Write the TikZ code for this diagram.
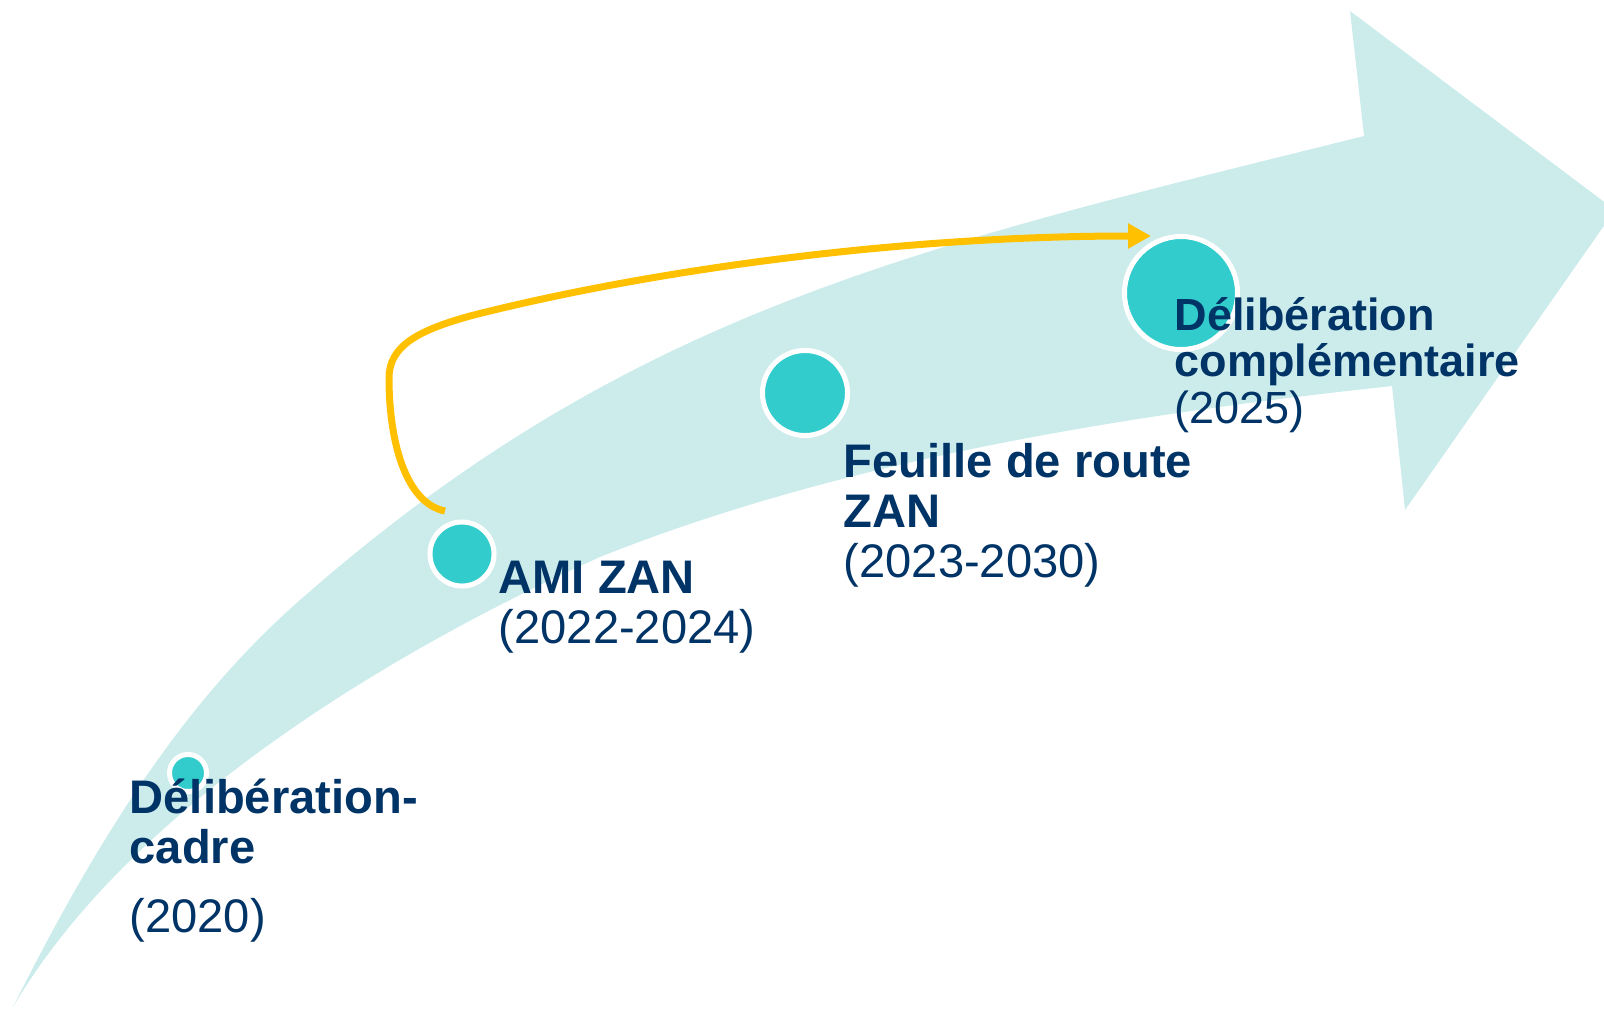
\documentclass[tikz,border=0pt]{standalone}
\usepackage{fontspec}
\setmainfont{Liberation Sans}
\usetikzlibrary{arrows.meta}
\definecolor{bandteal}{HTML}{CCECEC}
\definecolor{dotteal}{HTML}{33CCCC}
\definecolor{navy}{HTML}{003366}
\definecolor{amber}{HTML}{FFC000}
\tikzset{
  dot/.style={circle, fill=dotteal, draw=white, line width=0.05cm, inner sep=0pt},
  milestone/.style={anchor=base west, inner sep=0pt, align=left, text=navy,
    font=\fontsize{13.4}{14.2}\selectfont},
  link/.style={draw=amber, line width=0.07cm, -{Triangle[length=0.23cm,width=0.24cm]}}
}
\begin{document}
\begin{tikzpicture}[x=0.01cm,y=-0.01cm]
\useasboundingbox (0,0) rectangle (1604,1009);
\begin{scope}
\clip (0,0) rectangle (1604,1009);
\fill[bandteal] (13,1007) .. controls (113,807) and (200,688) .. (300,600)
  .. controls (630,310) and (914,248) .. (1364,136) -- (1350,11) -- (1615,210)
  -- (1405,510) -- (1392,386) .. controls (1142,413) and (850,457) .. (600,557)
  .. controls (400,647) and (133,803) .. (13,1007) -- cycle;
\end{scope}
\node[dot, minimum size=0.37cm] (c1) at (188,773) {};
\node[dot, minimum size=0.64cm] (c2) at (462,554) {};
\node[dot, minimum size=0.85cm] (c3) at (805,393) {};
\node[dot, minimum size=1.13cm] (c4) at (1181,293) {};
\draw[link] ([shift={(-17,-43)}]c2.center) .. controls (405,503) and (389,440) .. (389,378)
  .. controls (389,345) and (420,330) .. (470,316)
  .. controls (630,275) and (880,236) .. ([shift={(-30,-57)}]c4.center);
\node[milestone] (l1) at (129,932) {\textbf{Délibération-}\\\textbf{cadre}\\[5.4pt](2020)};
\node[milestone] (l2) at (498,643) {\textbf{AMI ZAN}\\(2022-2024)};
\node[milestone] (l3) at (843,577) {\textbf{Feuille de route}\\\textbf{ZAN}\\(2023-2030)};
\node[milestone, font=\fontsize{12.8}{13.1}\selectfont] (l4) at (1174,423)
  {\textbf{Délibération}\\\textbf{complémentaire}\\(2025)};
\end{tikzpicture}
\end{document}
